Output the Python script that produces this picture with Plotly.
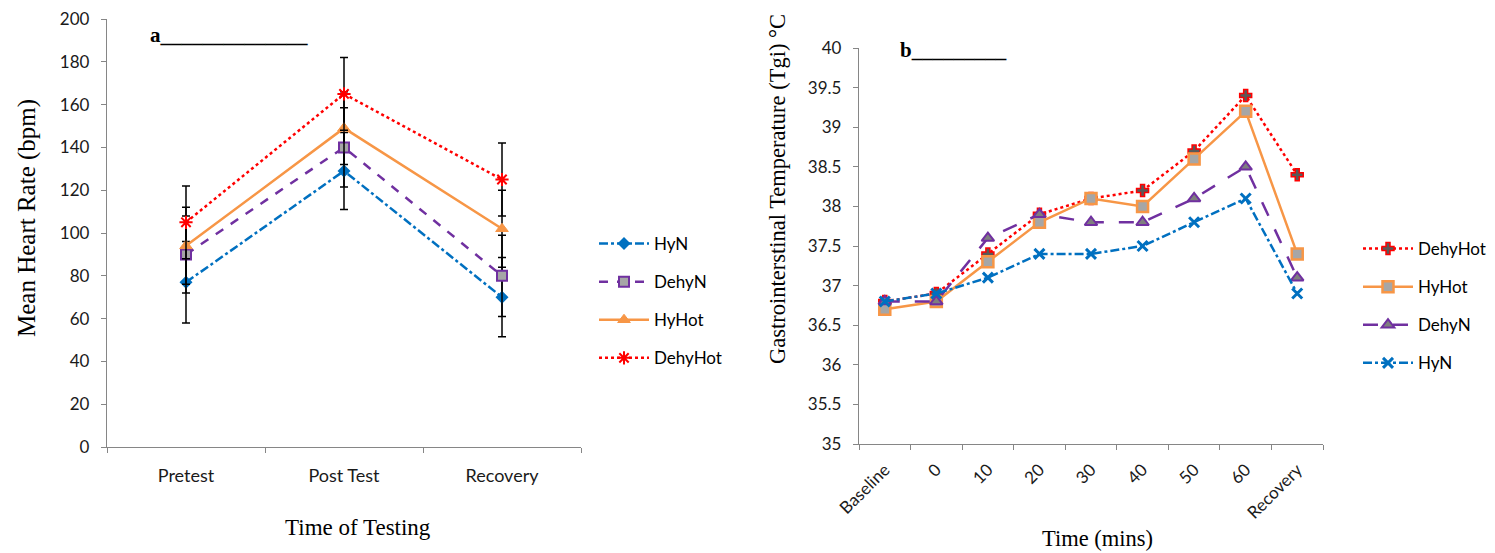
import plotly.graph_objects as go

# ---------- Panel a data ----------
a_categories = ["Pretest", "Post Test", "Recovery"]
a_HyN = [77, 129, 70]
a_DehyN = [90, 140, 80]
a_HyHot = [94, 149, 102]
a_DehyHot = [105, 165, 125]
a_err_HyN = [19, 18, 18.5]
a_err_DehyN = [18, 18.5, 19]
a_err_HyHot = [18, 17, 18]
a_err_DehyHot = [17, 17, 17]
a_yticks = [0, 20, 40, 60, 80, 100, 120, 140, 160, 180, 200]

# ---------- Panel b data ----------
b_categories = ["Baseline", "0", "10", "20", "30", "40", "50", "60", "Recovery"]
b_DehyHot = [36.8, 36.9, 37.4, 37.9, 38.1, 38.2, 38.7, 39.4, 38.4]
b_HyHot = [36.7, 36.8, 37.3, 37.8, 38.1, 38.0, 38.6, 39.2, 37.4]
b_DehyN = [36.8, 36.8, 37.6, 37.9, 37.8, 37.8, 38.1, 38.5, 37.1]
b_HyN = [36.8, 36.9, 37.1, 37.4, 37.4, 37.5, 37.8, 38.1, 36.9]
b_yticks = [35, 35.5, 36, 36.5, 37, 37.5, 38, 38.5, 39, 39.5, 40]

BLUE = "#0070C0"
PURPLE = "#7030A0"
ORANGE = "#F79646"
RED = "#FF0000"
GREY = "#A6A6A6"
TICKFONT = dict(family="Lato, Carlito, sans-serif", size=17, color="#1a1a1a")
XTICKFONT = dict(family="Lato, Carlito, sans-serif", size=18, color="#1a1a1a")
LEGFONT = dict(family="Lato, Carlito, sans-serif", size=17, color="black")
SERIF = "Liberation Serif, Times New Roman, serif"

fig = go.Figure()

def err(vals):
    return dict(type="data", array=vals, visible=True, color="black", thickness=1.5, width=4)

# Panel a traces
fig.add_trace(go.Scatter(x=a_categories, y=a_HyN, name="HyN", mode="lines+markers",
    line=dict(color=BLUE, width=2.5, dash="dashdot"),
    marker=dict(symbol="diamond", size=10, color=BLUE),
    error_y=err(a_err_HyN), xaxis="x", yaxis="y", legend="legend", legendgroup="a1"))
fig.add_trace(go.Scatter(x=a_categories, y=a_DehyN, name="DehyN", mode="lines+markers",
    line=dict(color=PURPLE, width=2.5, dash="dash"),
    marker=dict(symbol="square", size=10, color=GREY, line=dict(color=PURPLE, width=2)),
    error_y=err(a_err_DehyN), xaxis="x", yaxis="y", legend="legend", legendgroup="a2"))
fig.add_trace(go.Scatter(x=a_categories, y=a_HyHot, name="HyHot", mode="lines+markers",
    line=dict(color=ORANGE, width=2.5),
    marker=dict(symbol="triangle-up", size=11, color=ORANGE, line=dict(color=ORANGE, width=1)),
    error_y=err(a_err_HyHot), xaxis="x", yaxis="y", legend="legend", legendgroup="a3"))
fig.add_trace(go.Scatter(x=a_categories, y=a_DehyHot, name="DehyHot", mode="lines+markers",
    line=dict(color=RED, width=2.5, dash="dot"),
    marker=dict(symbol="asterisk-open", size=11, color=RED, line=dict(color=RED, width=2)),
    error_y=err(a_err_DehyHot), xaxis="x", yaxis="y", legend="legend", legendgroup="a4"))

# Panel b traces
fig.add_trace(go.Scatter(x=b_categories, y=b_DehyHot, name="DehyHot", mode="lines+markers",
    line=dict(color=RED, width=2.5, dash="dot"),
    marker=dict(symbol="cross", size=10, color="#595959", line=dict(color=RED, width=1.5)),
    xaxis="x2", yaxis="y2", legend="legend2", legendgroup="b1"))
fig.add_trace(go.Scatter(x=b_categories, y=b_HyHot, name="HyHot", mode="lines+markers",
    line=dict(color=ORANGE, width=2.5),
    marker=dict(symbol="square", size=11, color=GREY, line=dict(color=ORANGE, width=2.5)),
    xaxis="x2", yaxis="y2", legend="legend2", legendgroup="b2"))
fig.add_trace(go.Scatter(x=b_categories, y=b_DehyN, name="DehyN", mode="lines+markers",
    line=dict(color=PURPLE, width=2.5, dash="longdash"),
    marker=dict(symbol="triangle-up", size=11, color="#7f7f7f", line=dict(color=PURPLE, width=2)),
    xaxis="x2", yaxis="y2", legend="legend2", legendgroup="b3"))
fig.add_trace(go.Scatter(x=b_categories, y=b_HyN, name="HyN", mode="lines+markers",
    line=dict(color=BLUE, width=2.5, dash="dashdot"),
    marker=dict(symbol="x-thin-open", size=10, color=BLUE, line=dict(color=BLUE, width=3)),
    xaxis="x2", yaxis="y2", legend="legend2", legendgroup="b4"))

# page body adds an 8px margin; compensate so positions match the window pixels
OFF = 8
W, H = 1495 - OFF, 553 - OFF
def px_x(p): return (p - OFF) / W
def px_y(p): return 1 - (p - OFF) / H

axis_common = dict(showline=True, linecolor="#868686", linewidth=1.3, ticks="outside",
                   ticklen=5, tickcolor="#868686", showgrid=False, zeroline=False,
                   automargin=False, ticklabeloverflow="allow")

def ann(text, x, y, size, angle=0):
    return dict(text=text, x=px_x(x), y=px_y(y), xref="paper", yref="paper",
                xanchor="center", yanchor="middle", showarrow=False, textangle=angle,
                font=dict(family=SERIF, size=size, color="black"))

fig.update_layout(
    width=W, height=H, margin=dict(l=0, r=0, t=0, b=0),
    paper_bgcolor="white", plot_bgcolor="white",
    xaxis=dict(domain=[px_x(107), px_x(581)], anchor="y", type="category",
               tickson="boundaries", range=[-0.5, 2.5], tickfont=XTICKFONT,
               ticklabelstandoff=12, **axis_common),
    yaxis=dict(domain=[px_y(447), px_y(19)], anchor="x", range=[0, 200],
               tickvals=a_yticks, tickfont=TICKFONT, ticklabelstandoff=8, **axis_common),
    xaxis2=dict(domain=[px_x(859), px_x(1323)], anchor="y2", type="category",
                tickson="boundaries", range=[-0.5, 8.5], tickangle=-45, tickfont=TICKFONT,
                ticklabelstandoff=8, **axis_common),
    yaxis2=dict(domain=[px_y(444), px_y(48)], anchor="x2", range=[35, 40],
                tickvals=b_yticks, ticktext=[f"{v:g}" for v in b_yticks], tickfont=TICKFONT,
                ticklabelstandoff=8, **axis_common),
    legend=dict(x=px_x(594), y=px_y(226), xanchor="left", yanchor="top",
                font=LEGFONT, tracegroupgap=13, bgcolor="rgba(0,0,0,0)", itemwidth=50),
    legend2=dict(x=px_x(1358), y=px_y(231), xanchor="left", yanchor="top",
                 font=LEGFONT, tracegroupgap=13, bgcolor="rgba(0,0,0,0)", itemwidth=50),
    showlegend=True,
    annotations=[
        ann("Mean Heart Rate (bpm)", 27, 218, 25, angle=-90),
        ann("Time of Testing", 358, 527, 23),
        ann("Gastrointerstinal Temperature (Tgi) °C", 778, 189, 22.5, angle=-90),
        ann("Time (mins)", 1097, 538, 22.5),
        dict(text="<b>a______________</b>", x=px_x(148), y=px_y(35), xref="paper", yref="paper",
             xanchor="left", yanchor="middle", showarrow=False,
             font=dict(family=SERIF, size=21, color="black")),
        dict(text="<b>b_________</b>", x=px_x(898), y=px_y(50), xref="paper", yref="paper",
             xanchor="left", yanchor="middle", showarrow=False,
             font=dict(family=SERIF, size=21, color="black")),
    ],
)

fig.write_html("out.html")
